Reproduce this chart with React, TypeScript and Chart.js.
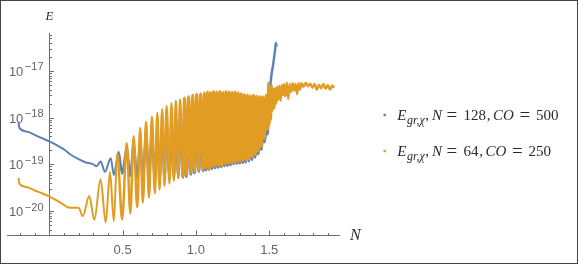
import React, { useEffect, useRef } from "react";
import { Chart, registerables } from "chart.js";

Chart.register(...registerables);

// ---------- data: x = N, values given as log10(E) ----------
// blue series: E_gr,chi, N = 128, CO = 500
const blueRampN = [-0.21, -0.204, -0.15, -0.1, -0.05, 0.0, 0.05, 0.1, 0.15, 0.2, 0.25, 0.278, 0.3, 0.323, 0.35, 0.38, 0.419, 0.441, 0.472];
const blueRampLog10E = [-18.09, -18.22, -18.3, -18.37, -18.44, -18.51, -18.59, -18.68, -18.8, -18.89, -18.96, -18.98, -19.0, -19.04, -18.94, -19.16, -18.87, -19.23, -18.73];

const blueOscN = [0.497, 0.528, 0.553, 0.575, 0.6, 0.62, 0.638, 0.66, 0.68, 0.7, 0.72, 0.737, 0.752, 0.77, 0.786, 0.8, 0.82, 0.833, 0.85, 0.863, 0.88, 0.892, 0.91, 0.922, 0.935, 0.95, 0.965, 0.978, 0.99, 1.005, 1.02, 1.032, 1.05];
const blueOscLog10E = [-19.2, -18.66, -19.25, -18.58, -19.3, -18.5, -19.32, -18.4, -19.33, -18.3, -19.33, -18.26, -19.32, -18.2, -19.31, -18.14, -19.3, -18.1, -19.29, -18.06, -19.28, -18.03, -19.28, -18.0, -19.26, -17.99, -19.21, -17.98, -19.18, -17.97, -19.15, -17.96, -19.13];

const blueDenseN = [1.058, 1.068, 1.079, 1.089, 1.1, 1.11, 1.121, 1.131, 1.142, 1.152, 1.163, 1.173, 1.184, 1.194, 1.205, 1.215, 1.226, 1.236, 1.247, 1.257, 1.268, 1.278, 1.289, 1.299, 1.31, 1.32, 1.331, 1.341, 1.352, 1.362, 1.373, 1.383, 1.394, 1.404, 1.415, 1.425, 1.436, 1.446, 1.457];
const blueDenseLog10E = [-17.95, -19.12, -17.94, -19.11, -17.95, -19.09, -17.93, -19.07, -17.94, -19.06, -17.92, -19.05, -17.94, -19.03, -17.93, -19.02, -17.92, -19.01, -17.94, -18.99, -17.93, -18.98, -17.95, -18.97, -17.96, -18.96, -17.97, -18.95, -17.98, -18.93, -18.0, -18.9, -18.02, -18.85, -18.05, -18.78, -18.08, -18.68, -18.1];

const blueRiseN = [1.467, 1.478, 1.487, 1.494, 1.505, 1.517, 1.528, 1.54, 1.546, 1.551];
const blueRiseLog10E = [-18.52, -18.3, -18.35, -18.05, -17.41, -17.05, -16.84, -16.55, -16.4, -16.48];

// orange series: E_gr,chi, N = 64, CO = 250
const orangeRampN = [-0.21, -0.204, -0.15, -0.1, -0.05, 0.0, 0.05, 0.1, 0.125, 0.15, 0.175, 0.2];
const orangeRampLog10E = [-19.29, -19.42, -19.49, -19.56, -19.62, -19.69, -19.77, -19.87, -19.92, -19.93, -19.93, -19.93];

const orangeOscN = [0.228, 0.273, 0.307, 0.35, 0.385, 0.414, 0.44, 0.464, 0.497, 0.528, 0.553, 0.575, 0.6, 0.62, 0.638, 0.66, 0.68, 0.7, 0.72, 0.737, 0.752, 0.77, 0.786, 0.8, 0.82, 0.833, 0.85, 0.863, 0.88, 0.892, 0.91, 0.922, 0.935, 0.95, 0.965, 0.978, 0.99, 1.005, 1.02, 1.032, 1.05];
const orangeOscLog10E = [-20.11, -19.68, -20.19, -19.32, -20.25, -19.16, -20.22, -18.76, -20.18, -18.55, -20.05, -18.4, -19.92, -18.22, -19.82, -18.09, -19.71, -17.98, -19.62, -17.9, -19.54, -17.82, -19.46, -17.75, -19.41, -17.69, -19.35, -17.64, -19.3, -17.61, -19.27, -17.58, -19.23, -17.55, -19.18, -17.52, -19.15, -17.5, -19.12, -17.49, -19.1];

const orangeDenseN = [1.058, 1.068, 1.079, 1.089, 1.1, 1.11, 1.121, 1.131, 1.142, 1.152, 1.163, 1.173, 1.184, 1.194, 1.205, 1.215, 1.226, 1.236, 1.247, 1.257, 1.268, 1.278, 1.289, 1.299, 1.31, 1.32, 1.331, 1.341, 1.352, 1.362, 1.373, 1.383, 1.394, 1.404, 1.415, 1.425, 1.436, 1.446, 1.457, 1.467, 1.478];
const orangeDenseLog10E = [-17.47, -19.08, -17.45, -19.1, -17.46, -19.05, -17.44, -19.04, -17.45, -19.02, -17.44, -19.03, -17.46, -19.0, -17.44, -18.98, -17.45, -18.97, -17.46, -18.96, -17.45, -18.94, -17.47, -18.93, -17.49, -18.92, -17.51, -18.9, -17.52, -18.88, -17.53, -18.84, -17.52, -18.79, -17.54, -18.72, -17.55, -18.62, -17.55, -18.45, -17.52];

const orangeTailN = [1.488, 1.497, 1.503, 1.508, 1.513, 1.518, 1.524, 1.53, 1.536, 1.542, 1.548, 1.556, 1.562, 1.57, 1.578, 1.586, 1.594, 1.6, 1.61, 1.62, 1.63, 1.64, 1.65, 1.66, 1.67, 1.68, 1.69, 1.7, 1.71, 1.72, 1.735, 1.75, 1.765, 1.78, 1.795, 1.81, 1.825, 1.84, 1.855, 1.87, 1.885, 1.9, 1.915, 1.93, 1.944];
const orangeTailLog10E = [-18.25, -17.25, -18.15, -17.35, -18.05, -17.3, -17.85, -17.38, -17.8, -17.36, -17.7, -17.33, -17.62, -17.32, -17.64, -17.3, -17.52, -17.28, -17.55, -17.25, -17.6, -17.28, -17.45, -17.26, -17.42, -17.27, -17.5, -17.26, -17.4, -17.26, -17.34, -17.25, -17.33, -17.27, -17.36, -17.28, -17.4, -17.3, -17.37, -17.28, -17.38, -17.3, -17.4, -17.31, -17.36];

// legend texts
const legendN = ["128", "64"];
const legendCO = ["500", "250"];

// axes
const X_MIN = -0.2885;
const X_MAX = 1.983;
const Y_MIN_LOG = -20.514;
const Y_MAX_LOG = -16.186;
const xMajorTicks = [0.5, 1.0, 1.5];
const xTickLabels = ["0.5", "1.0", "1.5"];
const xMinorTicks = [-0.2, -0.1, 0.1, 0.2, 0.3, 0.4, 0.6, 0.7, 0.8, 0.9, 1.1, 1.2, 1.3, 1.4, 1.6, 1.7, 1.8, 1.9];
const yMajorExp = [-17, -18, -19, -20];
const yTickExpLabels = ["\u221217", "\u221218", "\u221219", "\u221220"];

const BLUE = "#5E81B5";
const ORANGE = "#E19C24";
const AXIS = "#6e6e6e";
const LABEL = "#666666";
const TEXT = "#2a2a2a";

const toPoints = (ns: number[], ls: number[]) => ns.map((n, i) => ({ x: n, y: Math.pow(10, ls[i]) }));

const blueData = [
  ...toPoints(blueRampN, blueRampLog10E),
  ...toPoints(blueOscN, blueOscLog10E),
  ...toPoints(blueDenseN, blueDenseLog10E),
  ...toPoints(blueRiseN, blueRiseLog10E),
];
const orangeData = [
  ...toPoints(orangeRampN, orangeRampLog10E),
  ...toPoints(orangeOscN, orangeOscLog10E),
  ...toPoints(orangeDenseN, orangeDenseLog10E),
  ...toPoints(orangeTailN, orangeTailLog10E),
];

// thicker strokes where the oscillation is dense, so that the band reads as solid
const segWidth = (c: any) => {
  const x = c.p0.parsed.x;
  if (x >= 0.9 && x < 1.49) return 3.0;
  if (x >= 0.45 && x < 0.9) return 2.5;
  if (x >= 1.49) return 2.4;
  return 2.0;
};

const axesPlugin = {
  id: "mmaAxes",
  beforeDatasetsDraw(chart: any) {
    const ctx: CanvasRenderingContext2D = chart.ctx;
    const { left, right, top, bottom } = chart.chartArea;
    const xs = chart.scales.x;
    const ys = chart.scales.y;
    const x0 = Math.round(xs.getPixelForValue(0)) + 0.5;
    const yb = Math.round(bottom) + 0.5;
    ctx.save();
    ctx.strokeStyle = AXIS;
    ctx.lineWidth = 1;
    ctx.beginPath();
    ctx.moveTo(left, yb);
    ctx.lineTo(right, yb);
    ctx.moveTo(x0, top);
    ctx.lineTo(x0, yb);
    xMinorTicks.forEach((v) => {
      const px = Math.round(xs.getPixelForValue(v)) + 0.5;
      ctx.moveTo(px, yb);
      ctx.lineTo(px, yb - 2.5);
    });
    xMajorTicks.forEach((v) => {
      const px = Math.round(xs.getPixelForValue(v)) + 0.5;
      ctx.moveTo(px, yb);
      ctx.lineTo(px, yb - 5);
    });
    for (let d = -21; d <= -17; d++) {
      for (let m = 1; m <= 9; m++) {
        const lv = d + Math.log10(m);
        if (lv < Y_MIN_LOG || lv > Y_MAX_LOG) continue;
        const py = Math.round(ys.getPixelForValue(Math.pow(10, lv))) + 0.5;
        ctx.moveTo(x0, py);
        ctx.lineTo(x0 + (m === 1 ? 4.5 : 2.5), py);
      }
    }
    ctx.stroke();

    ctx.fillStyle = LABEL;
    ctx.textBaseline = "alphabetic";
    ctx.font = '13px "Liberation Sans"';
    ctx.textAlign = "center";
    xMajorTicks.forEach((v, i) => {
      ctx.fillText(xTickLabels[i], xs.getPixelForValue(v), yb + 18);
    });
    yMajorExp.forEach((e, i) => {
      const ty = ys.getPixelForValue(Math.pow(10, e));
      ctx.textAlign = "right";
      ctx.font = '11px "Liberation Sans"';
      const xr = x0 - 6;
      ctx.fillText(yTickExpLabels[i], xr, ty - 0.5);
      const w = ctx.measureText(yTickExpLabels[i]).width;
      ctx.font = '13px "Liberation Sans"';
      ctx.fillText("10", xr - w - 1.5, ty + 5);
    });

    ctx.fillStyle = TEXT;
    ctx.font = 'italic 13px "Liberation Serif"';
    ctx.textAlign = "center";
    ctx.fillText("E", x0, top - 13);
    ctx.font = 'italic 16px "Liberation Serif"';
    ctx.textAlign = "left";
    ctx.fillText("N", right + 10, yb + 4);
    ctx.restore();
  },
};

const legendPlugin = {
  id: "mmaLegend",
  afterDraw(chart: any) {
    const ctx: CanvasRenderingContext2D = chart.ctx;
    const colors = [BLUE, ORANGE];
    const x0 = 396.3;
    const baselines = [119, 155];
    ctx.save();
    ctx.textBaseline = "alphabetic";
    ctx.textAlign = "left";
    baselines.forEach((by, r) => {
      ctx.fillStyle = colors[r];
      ctx.fillRect(382.5, by - 6.2, 2.4, 2.4);
      ctx.fillStyle = TEXT;
      const it = 'italic 15px "Liberation Serif"';
      const rm = '15px "Liberation Serif"';
      const eq = '19px "Liberation Serif"';
      ctx.font = it;
      ctx.fillText("E", x0, by);
      ctx.font = 'italic 12px "Liberation Serif"';
      const sub = "gr,\u03C7";
      ctx.fillText(sub, x0 + 9.8, by + 4);
      let x = x0 + 9.8 + ctx.measureText(sub).width + 0.6;
      ctx.font = rm;
      ctx.fillText(",", x, by);
      x += 6.6;
      ctx.font = it;
      ctx.fillText("N", x, by);
      x += ctx.measureText("N").width + 4.6;
      ctx.font = eq;
      ctx.fillText("=", x, by + 0.5);
      x += 17;
      ctx.font = rm;
      ctx.fillText(legendN[r], x, by);
      x += ctx.measureText(legendN[r]).width + 0.8;
      ctx.fillText(",", x, by);
      x += 6.2;
      ctx.font = it;
      ctx.fillText("CO", x, by);
      x += ctx.measureText("CO").width + 5.6;
      ctx.font = eq;
      ctx.fillText("=", x, by + 0.5);
      x += 16.6;
      ctx.font = rm;
      ctx.fillText(legendCO[r], x, by);
    });
    ctx.restore();
  },
};

export default function App() {
  const ref = useRef<HTMLCanvasElement>(null);
  useEffect(() => {
    const canvas = ref.current;
    if (!canvas) return;
    const chart = new Chart(canvas, {
      type: "line",
      data: {
        datasets: [
          {
            label: "E_gr,chi, N = 64, CO = 250",
            data: orangeData,
            borderColor: ORANGE,
            backgroundColor: ORANGE,
            borderWidth: 2.0,
            segment: { borderWidth: segWidth },
            pointRadius: 0,
            fill: false,
            cubicInterpolationMode: "monotone",
            borderJoinStyle: "round",
            order: 0,
          },
          {
            label: "E_gr,chi, N = 128, CO = 500",
            data: blueData,
            borderColor: BLUE,
            backgroundColor: BLUE,
            borderWidth: 2.0,
            segment: { borderWidth: segWidth },
            pointRadius: 0,
            fill: false,
            cubicInterpolationMode: "monotone",
            borderJoinStyle: "round",
            order: 1,
          },
        ],
      },
      options: {
        animation: false,
        responsive: false,
        events: [],
        layout: { padding: { left: 6, right: 237, top: 32, bottom: 28 } },
        scales: {
          x: { type: "linear", min: X_MIN, max: X_MAX, display: false },
          y: { type: "logarithmic", min: Math.pow(10, Y_MIN_LOG), max: Math.pow(10, Y_MAX_LOG), display: false },
        },
        plugins: { legend: { display: false }, tooltip: { enabled: false } },
      },
      plugins: [axesPlugin, legendPlugin],
    } as any);
    return () => chart.destroy();
  }, []);
  return (
    <div
      style={{
        position: "absolute",
        left: 0,
        top: 0,
        width: 578,
        height: 264,
        boxSizing: "border-box",
        border: "1px solid #444",
        background: "#fff",
      }}
    >
      <canvas ref={ref} width={576} height={262} style={{ display: "block", width: 576, height: 262 }} />
    </div>
  );
}
